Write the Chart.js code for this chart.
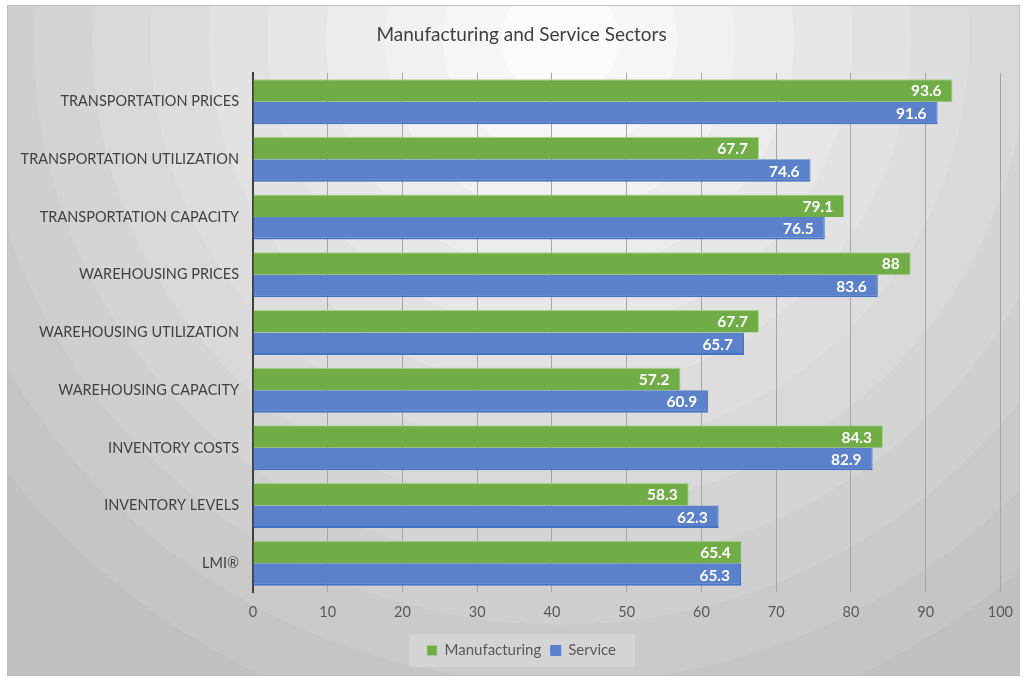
<!DOCTYPE html>
<html>
<head>
<meta charset="utf-8">
<script src="https://cdn.jsdelivr.net/npm/chart.js@4/dist/chart.umd.min.js"></script>
<style>
  html, body { margin: 0; padding: 0; background: #ffffff; }
</style>
</head>
<body>
<canvas id="sectors" width="1025" height="677"></canvas>
<script>
// categories, top to bottom
var categories = [
  "TRANSPORTATION PRICES",
  "TRANSPORTATION UTILIZATION",
  "TRANSPORTATION CAPACITY",
  "WAREHOUSING PRICES",
  "WAREHOUSING UTILIZATION",
  "WAREHOUSING CAPACITY",
  "INVENTORY COSTS",
  "INVENTORY LEVELS",
  "LMI\u00AE"
];
var manufacturing = [93.6, 67.7, 79.1, 88, 67.7, 57.2, 84.3, 58.3, 65.4];
var service = [91.6, 74.6, 76.5, 83.6, 65.7, 60.9, 82.9, 62.3, 65.3];
var xTicks = [0, 10, 20, 30, 40, 50, 60, 70, 80, 90, 100];

var FONT = "Lato, 'Open Sans', sans-serif";

// framed panel with the ringed radial fill behind everything
var panelBg = {
  id: "panelBg",
  // title and legend sit a little right of the canvas centre
  afterLayout: function(chart) {
    [chart.titleBlock, chart.legend].forEach(function(b) {
      if (b) { b.left += 9; b.right += 9; }
    });
  },
  beforeDraw: function(chart) {
    var c = chart.ctx;
    var x0 = 7, y0 = 5, x1 = 1020, y1 = 676;
    c.save();
    var g = c.createRadialGradient(560, 40, 0, 560, 40, 760);
    var bands = ["#fbfbfb", "#f6f6f6", "#f1f1f1", "#ececec", "#e7e7e7", "#e2e2e2",
                 "#dddddd", "#d9d9d9", "#d4d4d4", "#cfcfcf", "#cacaca", "#c5c5c5", "#c0c0c0"];
    for (var i = 0; i < bands.length; i++) {
      var a = i / bands.length, b = (i + 1) / bands.length - 0.0001;
      g.addColorStop(a, bands[i]);
      g.addColorStop(b, bands[i]);
    }
    c.fillStyle = g;
    c.fillRect(x0, y0, x1 - x0, y1 - y0);
    c.strokeStyle = "#bdbdbd";
    c.lineWidth = 1;
    c.strokeRect(x0 + 0.5, y0 + 0.5, x1 - x0 - 1, y1 - y0 - 1);

    // light box behind the legend
    var lg = chart.legend;
    if (lg) {
      c.fillStyle = "rgba(255,255,255,0.2)";
      c.fillRect(Math.round(lg.left + (lg.width - 226) / 2), 634, 226, 33);
    }
    c.restore();
  }
};

// value labels at the inner end of each bar
var barValues = {
  id: "barValues",
  afterDatasetsDraw: function(chart) {
    var c = chart.ctx;
    c.save();
    c.font = "bold 15.5px " + FONT;
    c.fillStyle = "#ffffff";
    c.textAlign = "right";
    c.textBaseline = "middle";
    chart.data.datasets.forEach(function(ds, di) {
      chart.getDatasetMeta(di).data.forEach(function(bar, i) {
        c.fillText(String(ds.data[i]), bar.x - 11, bar.y + 1);
      });
    });
    c.restore();
  }
};

new Chart(document.getElementById("sectors"), {
  type: "bar",
  data: {
    labels: categories,
    datasets: [
      {
        label: "Manufacturing",
        data: manufacturing,
        backgroundColor: "#70ad47",
        borderColor: "#a9d18e",
        borderWidth: { top: 1, right: 1, bottom: 0, left: 0 },
        borderSkipped: "left"
      },
      {
        label: "Service",
        data: service,
        backgroundColor: "#5a81ca",
        borderColor: "#4472c4",
        borderWidth: { top: 0, right: 1, bottom: 2, left: 0 },
        borderSkipped: "left"
      }
    ]
  },
  options: {
    indexAxis: "y",
    responsive: false,
    animation: false,
    devicePixelRatio: 1,
    layout: { padding: { left: 0, right: 0, top: 18, bottom: 9 } },
    datasets: { bar: { categoryPercentage: 0.78, barPercentage: 1 } },
    scales: {
      x: {
        min: 0,
        max: 100,
        afterBuildTicks: function(s) { s.ticks = xTicks.map(function(v) { return { value: v }; }); },
        grid: { color: "#a6a6a6", lineWidth: 1, drawTicks: false },
        border: { display: false },
        ticks: { color: "#595959", font: { family: FONT, size: 14.5 }, padding: 12 }
      },
      y: {
        afterFit: function(s) { s.width = 253; },
        grid: { display: false, drawTicks: false },
        border: { display: true, color: "#404040", width: 2 },
        ticks: { color: "#404040", font: { family: FONT, size: 14.5 }, padding: 14 }
      }
    },
    plugins: {
      title: {
        display: true,
        text: "Manufacturing and Service Sectors",
        color: "#404040",
        font: { family: FONT, size: 19, weight: "normal" },
        padding: { top: 5, bottom: 27 }
      },
      legend: {
        position: "bottom",
        labels: {
          color: "#595959",
          font: { family: FONT, size: 15 },
          boxWidth: 10,
          boxHeight: 10,
          padding: 9.5
        }
      },
      tooltip: { enabled: false }
    }
  },
  plugins: [panelBg, barValues]
});
</script>
</body>
</html>
